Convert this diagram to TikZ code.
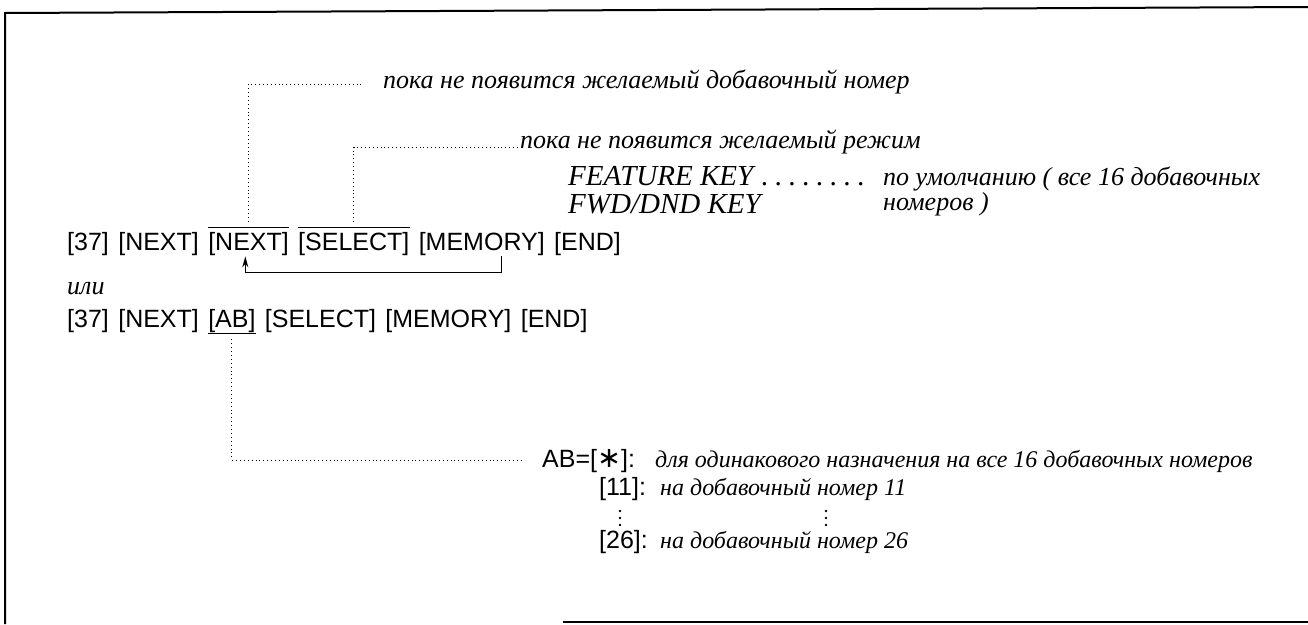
\documentclass[tikz,border=0pt]{standalone}
\usepackage{fontspec}
\setmainfont{Liberation Serif}
\setsansfont{Liberation Sans}
\newfontfamily\rit{Liberation Serif}
\newfontfamily\djv{DejaVu Sans}
\usetikzlibrary{arrows.meta,calc}
\begin{document}
\begin{tikzpicture}[x=1pt,y=-1pt,
  key/.style={font=\sffamily\fontsize{25}{30}\selectfont, inner sep=0pt, anchor=base west},
  note/.style={font=\rit\itshape\fontsize{26}{30}\selectfont, inner sep=0pt, anchor=base west},
  notes/.style={font=\rit\itshape\fontsize{24}{29}\selectfont, inner sep=0pt, anchor=base west},
  eng/.style={font=\itshape\fontsize{29}{33}\selectfont, inner sep=0pt, anchor=base west},
  dotline/.style={line width=0.8pt, dash pattern=on 0.9pt off 3pt},
  vdot/.style={fill=black, draw=none},
  bar/.style={line width=1pt},
  frame/.style={line width=2pt}]
\useasboundingbox (0,0) rectangle (1308,624);
% frame
\draw[frame] (5,624) -- (5,13) -- (1308,7);
\draw[line width=1.6pt] (563,622) -- (1308,622);

% first sequence
\node[key] (a1) at (67,250) {[37]};
\node[key] (a2) at ([xshift=9pt]a1.base east) {[NEXT]};
\node[key] (a3) at ([xshift=9pt]a2.base east) {[NEXT]};
\node[key] (a4) at ([xshift=9pt]a3.base east) {[SELECT]};
\node[key] (a5) at ([xshift=9pt]a4.base east) {[MEMORY]};
\node[key] (a6) at ([xshift=9pt]a5.base east) {[END]};
\draw[bar] ([yshift=4pt]a3.north west) -- ([yshift=4pt]a3.north east);
\draw[bar] ([yshift=4pt]a4.north west) -- ([yshift=4pt]a4.north east);

% loop arrow
\coordinate (ar) at ($(a5.south west)!0.66!(a5.south east)$);
\coordinate (al) at ($(a3.south west)!0.46!(a3.south east)$);
\draw[line width=1pt, -{Stealth[length=11pt,width=6pt]}]
  ([yshift=-1pt]ar) -- ([yshift=-17pt]ar) -| ([yshift=-1pt]al);

% or
\node[note] (or) at (67,294) {или};

% second sequence
\node[key] (b1) at (67,327) {[37]};
\node[key] (b2) at ([xshift=9pt]b1.base east) {[NEXT]};
\node[key] (b3) at ([xshift=9pt]b2.base east) {[AB]};
\node[key] (b4) at ([xshift=9pt]b3.base east) {[SELECT]};
\node[key] (b5) at ([xshift=9pt]b4.base east) {[MEMORY]};
\node[key] (b6) at ([xshift=9pt]b5.base east) {[END]};
\draw[bar] ([yshift=-1pt]b3.south west) -- ([yshift=-1pt]b3.south east);

% top notes
\node[note] (n1) at (383,88) {пока не появится желаемый добавочный номер};
\coordinate (d1) at ($(a3.north west)!0.5!(a3.north east)$);
\draw[dotline] ([yshift=10pt]d1) |- ([xshift=-20pt,yshift=4pt]n1.base west);

\node[note] (n2) at (520,148) {пока не появится желаемый режим};
\coordinate (d2) at ($(a4.north west)!0.5!(a4.north east)$);
\draw[dotline] ([yshift=10pt]d2) |- ([xshift=-2pt,yshift=1pt]n2.base west);

\node[eng] (f1) at (568,185) {FEATURE KEY};
\node[eng] (f1d) at ([xshift=8pt]f1.base east) {.\hspace{6.5pt}.\hspace{6.5pt}.\hspace{6.5pt}.\hspace{6.5pt}.\hspace{6.5pt}.\hspace{6.5pt}.\hspace{6.5pt}.};
\node[eng] (f2) at (568,213) {FWD/DND KEY};
\node[note] (f3) at (883,185) {по умолчанию ( все 16 добавочных};
\node[note] (f4) at (883,210) {номеров )};

% AB legend
\node[key] (c1) at (542,467) {AB=[{\djv\raisebox{-0.5pt}{\scalebox{1.15}{∗}}}]:};
\node[notes] (c1t) at (655,467) {для одинакового назначения на все 16 добавочных номеров};
\coordinate (d3) at ($(b3.south west)!0.5!(b3.south east)$);
\draw[dotline] ([yshift=-7pt]d3) |- ([xshift=-20pt,yshift=7pt]c1.base west);

\node[key] (c2) at (599,495) {[11]:};
\node[notes] (c2t) at (660,495) {на добавочный номер 11};
\foreach \x in {620,826}{
  \foreach \y in {511,518,525}{\fill[vdot] (\x,\y) circle (1.3pt);}
}
\node[key] (c3) at (599,548) {[26]:};
\node[notes] (c3t) at (660,548) {на добавочный номер 26};
\end{tikzpicture}
\end{document}
